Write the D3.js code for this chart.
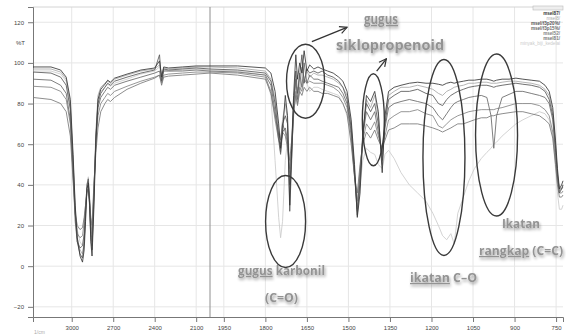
<!DOCTYPE html>
<html>
<head>
<meta charset="utf-8">
<script src="https://cdn.jsdelivr.net/npm/d3@7"></script>
<style>
  body { margin: 0; background: #fff; }
  svg { display: block; font-family: "Liberation Sans", Arial, sans-serif; }
</style>
</head>
<body>
<div class="svg-chart"></div>
<script>
// wavenumber grid (1/cm), rows of 10
const wavenumbers = [
  3280, 3150, 3080, 3040, 3010, 2990, 2975, 2960, 2940, 2922,
  2910, 2900, 2890, 2880, 2870, 2862, 2853, 2840, 2825, 2810,
  2790, 2760, 2740, 2720, 2690, 2600, 2500, 2400, 2365, 2350,
  2335, 2300, 2200, 2100, 2000, 1900, 1800, 1780, 1765, 1752,
  1745, 1738, 1728, 1720, 1712, 1705, 1698, 1690, 1684, 1676,
  1668, 1660, 1650, 1640, 1625, 1610, 1595, 1575, 1555, 1535,
  1520, 1505, 1490, 1478, 1468, 1458, 1448, 1435, 1420, 1405,
  1392, 1378, 1368, 1355, 1335, 1310, 1280, 1250, 1220, 1195,
  1175, 1160, 1145, 1130, 1118, 1105, 1085, 1065, 1045, 1020,
  1000, 985, 975, 965, 945, 920, 895, 870, 840, 810,
  790, 775, 762, 752, 745, 738, 730, 725
];

// %T values per sample
const msel87 = [
  98, 98, 96.5, 93, 82, 55, 30, 14, 5, 2,
  8, 22, 38, 41, 30, 12, 5, 28, 62, 82,
  87, 89.5, 91.5, 90.5, 92.5, 94.5, 96.5, 97.5, 101, 93,
  98, 97.5, 98, 98.5, 98.5, 98.5, 97.5, 95, 86, 70,
  58, 66, 84, 74, 30, 58, 84, 104, 92, 100,
  95, 106, 96, 99, 97, 98, 97, 96, 95, 93,
  91, 86, 72, 50, 24, 36, 64, 84, 81, 86,
  76, 46, 74, 86, 88, 89, 90, 90.5, 90, 90,
  89.5, 89, 90, 90.5, 90, 90.5, 91, 91.5, 91.5, 92,
  92, 91.5, 91, 91.5, 92, 92, 92.5, 92, 91.5, 91,
  89, 86, 78, 62, 48, 38, 40, 42
];
const msel8 = [
  97, 97, 95.5, 92, 80, 52, 28, 14, 8, 6,
  12, 24, 38, 42, 32, 16, 10, 34, 66, 84,
  88, 90, 91, 90, 92, 94, 96, 97, 99, 94,
  97.5, 97, 97.5, 98, 98, 97.5, 96, 92, 82, 68,
  62, 72, 80, 72, 46, 62, 82, 90, 94, 86,
  98, 92, 96, 93, 95, 94, 94, 93, 92, 90,
  88, 84, 70, 48, 27, 40, 64, 82, 78, 84,
  74, 50, 72, 84, 86, 88, 88, 89, 88, 87,
  85, 84, 86, 87, 88, 88.5, 89, 90, 90, 90.5,
  90.5, 90, 90, 90, 90.5, 91, 91, 90.5, 90, 89,
  87, 84, 76, 60, 46, 37, 38, 40
];
const mselF3p20 = [
  95.5, 95, 93, 89, 77, 50, 26, 12, 6, 4,
  12, 26, 40, 43, 28, 14, 8, 32, 64, 80,
  85, 88, 90, 89, 91, 93, 95, 96.5, 104, 91,
  97, 96.5, 97, 97.5, 97, 96.5, 95, 91, 80, 64,
  56, 70, 74, 70, 27, 52, 80, 96, 85, 94,
  104, 90, 97, 95, 96, 95, 96, 94, 93, 91,
  88, 82, 68, 46, 25, 42, 66, 80, 76, 80,
  70, 52, 70, 82, 84, 86, 86, 87, 85, 84,
  80, 79, 82, 84, 85, 86, 87, 88, 88.5, 89,
  89, 88.5, 88, 88.5, 89, 89.5, 90, 89.5, 89, 88,
  86, 82, 74, 58, 45, 36, 38, 40
];
const mselF3p15 = [
  92, 91.5, 89, 85, 72, 45, 22, 12, 9, 10,
  16, 28, 37, 38, 30, 18, 12, 36, 62, 78,
  83, 86, 88, 87, 89, 91, 93, 95, 96, 91,
  96, 96, 96, 96.5, 96, 95.5, 94, 89, 76, 62,
  55, 66, 68, 62, 40, 54, 78, 92, 82, 95,
  88, 100, 90, 94, 92, 92, 91, 90, 89, 88,
  85, 80, 66, 45, 28, 45, 64, 76, 72, 76,
  66, 55, 68, 78, 80, 81, 82, 81, 80, 78,
  74, 72, 75, 78, 80, 81, 82, 83, 83.5, 84,
  83, 74, 58, 74, 83, 84.5, 86, 86, 85, 84,
  83, 80, 72, 56, 44, 38, 38, 39
];
const msel52 = [
  88.5, 88, 86, 82, 70, 46, 26, 16, 14, 15,
  22, 30, 38, 40, 32, 22, 16, 38, 60, 74,
  80, 83, 85, 84, 86, 88.5, 91, 93, 94, 90,
  94, 94.5, 95, 95.5, 95.5, 95, 93, 86, 72, 62,
  60, 66, 64, 58, 48, 58, 74, 86, 80, 88,
  86, 92, 90, 91, 90, 90, 90, 89, 88, 86,
  83, 78, 64, 44, 32, 48, 62, 70, 67, 71,
  64, 58, 64, 72, 74, 76, 76, 77, 75, 74,
  69, 68, 70, 72, 73, 74, 75, 76, 76.5, 77,
  77, 77, 77, 77.5, 78, 79, 80, 80, 80, 79,
  77, 74, 66, 52, 42, 36, 36, 37
];
const msel81 = [
  83, 82, 80, 76, 64, 42, 26, 20, 18, 19,
  24, 30, 36, 38, 32, 24, 20, 40, 56, 68,
  76, 80, 82, 81, 83, 87, 90, 92.5, 94, 89,
  93, 93.5, 94, 94.5, 95, 94, 92, 85, 74, 65,
  62, 70, 66, 60, 52, 62, 76, 84, 79, 86,
  84, 88, 86, 88, 86, 86, 85, 85, 84, 83,
  80, 75, 60, 44, 36, 50, 60, 66, 63, 67,
  62, 58, 62, 67, 68, 70, 70, 70, 69, 68,
  67, 66, 67, 68, 69, 70, 70, 71, 72, 73,
  73, 74, 74, 74.5, 75, 75.5, 76, 76, 75, 74,
  72, 70, 63, 50, 40, 34, 34, 35
];
const minyakKedelai = [
  96, 96, 94.5, 91, 79, 52, 30, 18, 12, 10,
  16, 28, 40, 44, 34, 20, 14, 36, 66, 82,
  86, 88, 89.5, 88.5, 90, 92, 94.5, 96, 98, 93,
  96.5, 96, 96.5, 97, 96.5, 96, 94, 84, 52, 24,
  14, 22, 52, 62, 48, 60, 76, 84, 88, 86,
  88, 92, 90, 86, 88, 88, 87, 86, 85, 84,
  80, 74, 62, 45, 30, 40, 52, 58, 56, 55,
  50, 48, 55, 57, 53, 46, 40, 36, 32, 26,
  20, 15, 13, 16, 11, 26, 34, 42, 48, 53,
  56, 58, 60, 61, 64, 67, 70, 72, 74, 76,
  75, 72, 64, 48, 36, 28, 28, 30
];

const seriesNames = ["msel87/", "msel8/", "msel/f3p20%/", "msel/f3p15%/", "msel52/", "msel81/", "minyak_biji_kedelai"];
const seriesValues = [msel87, msel8, mselF3p20, mselF3p15, msel52, msel81, minyakKedelai];
const seriesColors = ["#363636", "#a8a8a8", "#575757", "#686868", "#848484", "#787878", "#cbcbcb"];

const xTickLabels = [3000, 2700, 2400, 2100, 1950, 1800, 1650, 1500, 1350, 1200, 1050, 900, 750];
const yTickLabels = [-20, 0, 20, 40, 60, 80, 100, 120];

// [text, underlined]; w = width the label covers in the picture
const annotations = [
  { text: [["gugus", true]], x: 364, y: 24, size: 13.5, w: 34 },
  { text: [["siklopropenoid", false]], x: 336, y: 50, size: 13.5, w: 108 },
  { text: [["gugus", true], [" karbonil", false]], x: 238, y: 275, size: 12.5, w: 87 },
  { text: [["(C=O)", false]], x: 265, y: 302, size: 12.5, w: 33 },
  { text: [["ikatan", true], [" C\u2013O", false]], x: 410, y: 282, size: 12.5, w: 67 },
  { text: [["Ikatan", false]], x: 502, y: 228, size: 12.5, w: 38 },
  { text: [["rangkap", true], [" (C=C)", false]], x: 479, y: 255, size: 12.5, w: 84 }
];
// ellipses around bands: centre wavenumber / %T, radii in px
const bandMarks = [
  { wn: 1727, t: 22, rx: 20, ry: 46 },
  { wn: 1655, t: 91, rx: 19, ry: 37 },
  { wn: 1410, t: 72, rx: 11, ry: 46 },
  { wn: 1155, t: 53.5, rx: 21, ry: 98 },
  { wn: 965, t: 64.5, rx: 21, ry: 81 }
];

const width = 566, height = 336;
const margin = { top: 7, right: 3, bottom: 19, left: 33 };

const svg = d3.select(".svg-chart").append("svg")
  .attr("width", width)
  .attr("height", height);

const defs = svg.append("defs");
const shadow = defs.append("filter").attr("id", "soft").attr("x", "-10%").attr("y", "-30%").attr("width", "130%").attr("height", "180%");
shadow.append("feGaussianBlur").attr("in", "SourceAlpha").attr("stdDeviation", 1.4).attr("result", "b");
shadow.append("feOffset").attr("in", "b").attr("dx", 1).attr("dy", 1.5).attr("result", "o");
shadow.append("feComponentTransfer").attr("in", "o").attr("result", "s")
  .append("feFuncA").attr("type", "linear").attr("slope", 0.4);
const merge = shadow.append("feMerge");
merge.append("feMergeNode").attr("in", "s");
merge.append("feMergeNode").attr("in", "SourceGraphic");

defs.append("marker")
  .attr("id", "arrow")
  .attr("viewBox", "0 0 10 10")
  .attr("refX", 9).attr("refY", 5)
  .attr("markerWidth", 7).attr("markerHeight", 7)
  .attr("orient", "auto")
  .append("path")
  .attr("d", "M1,1 L9,5 L1,9")
  .attr("fill", "none")
  .attr("stroke", "#333")
  .attr("stroke-width", 1.3);

// wavenumber axis has a scale change at 2000
const x = d3.scaleLinear()
  .domain([3280, 2000, 725])
  .range([margin.left, 210, width - margin.right]);

const y = d3.scaleLinear()
  .domain([-25, 127.5])
  .range([height - margin.bottom, margin.top]);

// grid
svg.append("g")
  .selectAll("line")
  .data(yTickLabels)
  .enter().append("line")
  .attr("x1", margin.left).attr("x2", width - margin.right)
  .attr("y1", d => y(d)).attr("y2", d => y(d))
  .attr("stroke", "#e6e6e6");

svg.append("g")
  .selectAll("line")
  .data(xTickLabels)
  .enter().append("line")
  .attr("x1", d => x(d)).attr("x2", d => x(d))
  .attr("y1", margin.top).attr("y2", height - margin.bottom)
  .attr("stroke", "#e6e6e6");

svg.append("line")
  .attr("x1", margin.left).attr("x2", width - margin.right)
  .attr("y1", margin.top).attr("y2", margin.top)
  .attr("stroke", "#d4d4d4");

// the 2000 break line
svg.append("line")
  .attr("x1", x(2000)).attr("x2", x(2000))
  .attr("y1", margin.top).attr("y2", height - margin.bottom)
  .attr("stroke", "#8e8e8e");

// axes
const minorX = d3.range(3250, 2000, -50).concat(d3.range(1975, 724, -25));
const minorY = d3.range(-25, 126, 5);

const xAxis = svg.append("g")
  .attr("transform", `translate(0,${height - margin.bottom})`);
xAxis.call(d3.axisBottom(x).tickValues(minorX).tickSize(3).tickFormat(""));
xAxis.call(d3.axisBottom(x).tickValues(xTickLabels).tickSize(5).tickPadding(4).tickFormat(d3.format("d")));
xAxis.selectAll("path, line").attr("stroke", "#777");
xAxis.selectAll("text").attr("font-size", 6).attr("fill", "#444");

const yAxis = svg.append("g")
  .attr("transform", `translate(${margin.left},0)`);
yAxis.call(d3.axisLeft(y).tickValues(minorY).tickSize(3).tickFormat(""));
yAxis.call(d3.axisLeft(y).tickValues(yTickLabels).tickSize(5).tickPadding(4));
yAxis.selectAll("path, line").attr("stroke", "#777");
yAxis.selectAll("text").attr("font-size", 6).attr("fill", "#444");

svg.append("text")
  .attr("x", 25).attr("y", y(110) + 2)
  .attr("text-anchor", "end")
  .attr("font-size", 6).attr("fill", "#444")
  .text("%T");

svg.append("text")
  .attr("x", 34).attr("y", 334)
  .attr("font-size", 5).attr("fill", "#aaa")
  .text("1/cm");

// spectra, light ones underneath
const line = d3.line()
  .defined(d => d[1] != null && !isNaN(d[1]))
  .x(d => x(d[0]))
  .y(d => y(d[1]));

const drawOrder = [6, 1, 4, 5, 3, 2, 0];
drawOrder.forEach(i => {
  svg.append("path")
    .datum(wavenumbers.map((w, j) => [w, seriesValues[i][j]]))
    .attr("fill", "none")
    .attr("stroke", seriesColors[i])
    .attr("stroke-width", 0.85)
    .attr("stroke-linejoin", "round")
    .attr("d", line);
});

// legend
const legend = svg.append("g");
legend.append("rect")
  .attr("x", 533).attr("y", 6).attr("width", 30).attr("height", 4)
  .attr("fill", "#eee").attr("stroke", "#bbb").attr("stroke-width", 0.6);
legend.selectAll("text")
  .data(seriesNames)
  .enter().append("text")
  .attr("x", 560)
  .attr("y", (d, i) => 14.5 + i * 5)
  .attr("text-anchor", "end")
  .attr("font-size", 4.6)
  .attr("fill", (d, i) => seriesColors[i])
  .attr("font-weight", (d, i) => (i === 1 || i === 6) ? "normal" : "bold")
  .text(d => d);

// band ellipses
svg.append("g")
  .selectAll("ellipse")
  .data(bandMarks)
  .enter().append("ellipse")
  .attr("cx", d => x(d.wn))
  .attr("cy", d => y(d.t))
  .attr("rx", d => d.rx)
  .attr("ry", d => d.ry)
  .attr("fill", "none")
  .attr("stroke", "#3a3a3a")
  .attr("stroke-width", 1.4);

// arrows to the "gugus siklopropenoid" label
const arrows = [
  { from: [1632, 110.5], to: [1505, 117.5] },
  { from: [1398, 96], to: [1363, 102] }
];
svg.append("g")
  .selectAll("line")
  .data(arrows)
  .enter().append("line")
  .attr("x1", d => x(d.from[0])).attr("y1", d => y(d.from[1]))
  .attr("x2", d => x(d.to[0])).attr("y2", d => y(d.to[1]))
  .attr("stroke", "#333")
  .attr("stroke-width", 1.3)
  .attr("marker-end", "url(#arrow)");

// annotation labels
annotations.forEach(a => {
  const t = svg.append("text")
    .attr("x", a.x).attr("y", a.y)
    .attr("font-family", "'Open Sans', Lato, sans-serif")
    .attr("font-weight", "bold")
    .attr("font-size", a.size)
    .attr("fill", "#939393")
    .attr("filter", "url(#soft)")
    .attr("textLength", a.w)
    .attr("lengthAdjust", "spacingAndGlyphs")
    .attr("xml:space", "preserve");
  a.text.forEach(([s, u]) => {
    t.append("tspan")
      .style("text-decoration", u ? "underline" : "none")
      .text(s);
  });
});
</script>
</body>
</html>
